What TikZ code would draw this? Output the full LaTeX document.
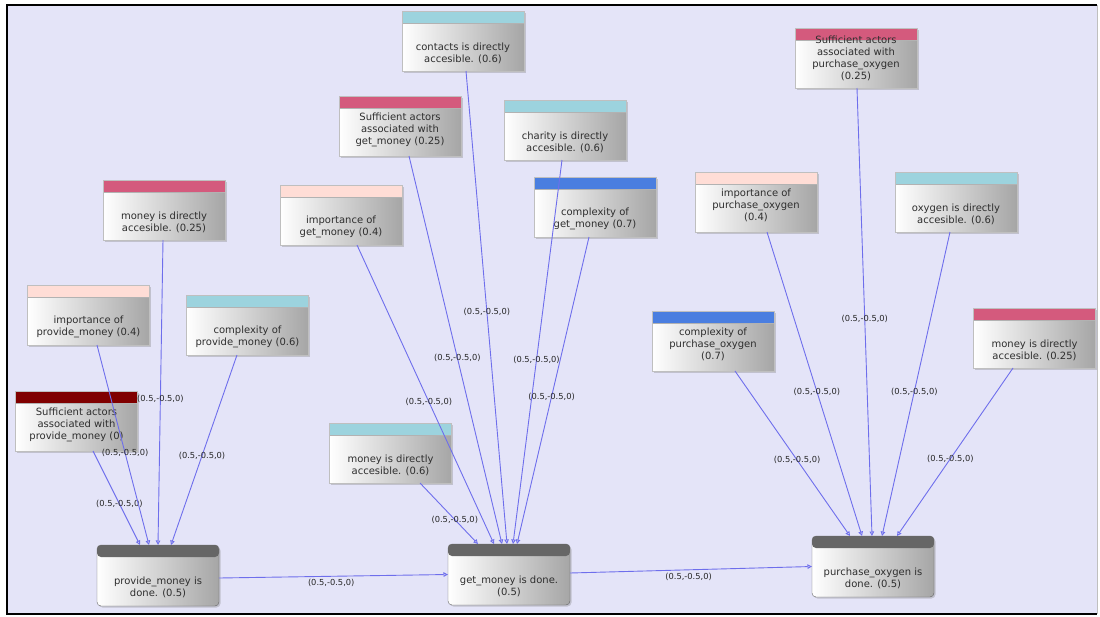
\documentclass[tikz,border=0pt]{standalone}
\usepackage{fontspec}
\newfontfamily\boxfont{DejaVu Sans}
\usepackage{xcolor}
\usetikzlibrary{arrows.meta, shadows}

\definecolor{canvas}{RGB}{228,228,248}
\definecolor{headred}{RGB}{212,90,125}
\definecolor{headpink}{RGB}{255,221,214}
\definecolor{headcyan}{RGB}{156,211,222}
\definecolor{headblue}{RGB}{74,126,224}
\definecolor{headdark}{RGB}{128,0,0}
\definecolor{linkblue}{RGB}{110,110,236}

\begin{document}
\begin{tikzpicture}[
    x=1pt, y=-1pt,
    >={Triangle[open,length=4.5pt,width=4.5pt]},
    % Boxes
    box/.style={
        rectangle, minimum width=122pt, minimum height=60pt,
        inner sep=0pt, outer sep=0pt, align=center,
        font=\boxfont\fontsize{10}{12}\selectfont, text=black!82,
        left color=white, right color=black!35, draw=black!25, thin,
        drop shadow={shadow xshift=1.5pt, shadow yshift=-1.5pt, opacity=0.35}
    },
    factor/.style={
        box,
        path picture={
            \fill[#1] (path picture bounding box.north west)
                rectangle ([yshift=-12pt]path picture bounding box.north east);
            \draw[black!30] ([yshift=-12pt]path picture bounding box.north west)
                -- ([yshift=-12pt]path picture bounding box.north east);
        }
    },
    done/.style={
        box, minimum height=61pt, rounded corners=4pt, draw=black!60,
        path picture={
            \fill[black!60] (path picture bounding box.north west)
                rectangle ([yshift=-12pt]path picture bounding box.north east);
        }
    },
    lines2/.style={text height=44pt},
    lines3/.style={text height=39pt},
    % Connectors
    link/.style={->, linkblue, line width=0.9pt},
    weight/.style={font=\boxfont\fontsize{8.3}{9}\selectfont, text=black!85, inner sep=0.5pt}
]

    % --- CANVAS ---
    \useasboundingbox (0,0) rectangle (1100,616);
    \fill[white] (0,0) rectangle (1100,616);
    \fill[canvas] (7,5) rectangle (1097,614);
    \draw[black!25] (1097,5) -- (1097,614);
    \draw[black, line width=1.4pt] (1097,5) -- (7,5) -- (7,614) -- (1097,614);

    % --- GOALS ---
    \node[done, lines2] (pm) at (158,575.5) {provide\_money is\\done. (0.5)};
    \node[done, lines2] (gm) at (509,574.5) {get\_money is done.\\(0.5)};
    \node[done, lines2] (po) at (873,566.5) {purchase\_oxygen is\\done. (0.5)};

    % --- FACTORS OF provide_money ---
    \node[factor=headred, lines2] (mPM) at (164,210) {money is directly\\accesible. (0.25)};
    \node[factor=headpink, lines2] (impPM) at (88.5,315) {importance of\\provide\_money (0.4)};
    \node[factor=headcyan, lines2] (cplxPM) at (247.5,325) {complexity of\\provide\_money (0.6)};
    \node[factor=headdark, lines3] (suffPM) at (76.5,421) {Sufficient actors\\associated with\\provide\_money (0)};

    % --- FACTORS OF get_money ---
    \node[factor=headcyan, lines2] (contacts) at (463,41) {contacts is directly\\accesible. (0.6)};
    \node[factor=headred, lines3] (suffGM) at (400,126) {Sufficient actors\\associated with\\get\_money (0.25)};
    \node[factor=headcyan, lines2] (charity) at (565,130) {charity is directly\\accesible. (0.6)};
    \node[factor=headpink, lines2] (impGM) at (341,215) {importance of\\get\_money (0.4)};
    \node[factor=headblue, lines2] (cplxGM) at (595,207) {complexity of\\get\_money (0.7)};
    \node[factor=headcyan, lines2] (mGM) at (390.5,453) {money is directly\\accesible. (0.6)};

    % --- FACTORS OF purchase_oxygen ---
    \node[factor=headred] (suffPO) at (856,58) {Sufficient actors\\associated with\\purchase\_oxygen\\(0.25)};
    \node[factor=headpink, lines3] (impPO) at (756,202) {importance of\\purchase\_oxygen\\(0.4)};
    \node[factor=headcyan, lines2] (oxy) at (956,202) {oxygen is directly\\accesible. (0.6)};
    \node[factor=headblue, lines3] (cplxPO) at (713,341) {complexity of\\purchase\_oxygen\\(0.7)};
    \node[factor=headred, lines2] (mPO) at (1034.5,338) {money is directly\\accesible. (0.25)};

    % --- CONNECTIONS ---
    % Factor to goal (source shift / target shift / label position)
    \foreach \src/\sx/\dst/\tx/\p in {
        suffPM/16.5/pm/-18/0.56, impPM/8.5/pm/-9/0.54,
        mPM/-1/pm/0/0.52, cplxPM/-10.5/pm/13/0.53,
        mGM/29.5/gm/-31/0.6, impGM/16/gm/-15/0.525,
        suffGM/9/gm/-7/0.52, contacts/3/gm/-2/0.51,
        charity/-3/gm/4/0.52, cplxGM/-6/gm/8/0.52,
        cplxPO/22/po/-23/0.54, impPO/11/po/-11/0.525,
        suffPO/1/po/-1/0.515, oxy/-6/po/9/0.525,
        mPO/-21.5/po/24/0.54} {
        \draw[link] ([xshift=\sx pt]\src.south) -- ([xshift=\tx pt]\dst.north)
            node[weight, pos=\p] {(0.5,-0.5,0)};
    }

    % Goal to goal
    \draw[link] ([yshift=-2.5pt]pm.east) -- (gm.west)
        node[weight, pos=0.49, below=2pt] {(0.5,-0.5,0)};
    \draw[link] ([yshift=1.5pt]gm.east) -- (po.west)
        node[weight, pos=0.49, below=2pt] {(0.5,-0.5,0)};

\end{tikzpicture}
\end{document}
